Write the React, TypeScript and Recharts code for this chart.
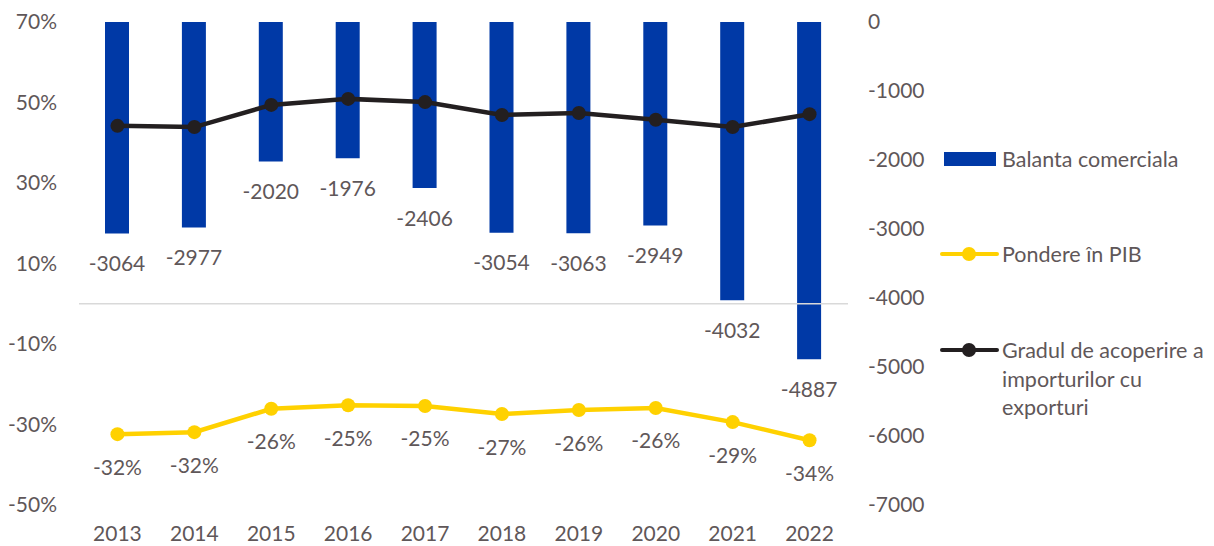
import {
  ComposedChart,
  Bar,
  Line,
  XAxis,
  YAxis,
  ReferenceLine,
  LabelList,
  Legend,
} from "recharts";

const years = ["2013", "2014", "2015", "2016", "2017", "2018", "2019", "2020", "2021", "2022"];
const balanta = [-3064, -2977, -2020, -1976, -2406, -3054, -3063, -2949, -4032, -4887];
const pondere = [-32.4, -31.9, -26.1, -25.2, -25.4, -27.4, -26.4, -25.9, -29.4, -33.9];
const gradul = [44.2, 43.9, 49.4, 50.9, 50.1, 46.9, 47.4, 45.7, 43.9, 47.1];

const leftTicks = [70, 50, 30, 10, -10, -30, -50];
const rightTicks = [0, -1000, -2000, -3000, -4000, -5000, -6000, -7000];

const BLUE = "#0039A6";
const YELLOW = "#FFD100";
const BLACK = "#231F20";
const TEXT = "#5f5759";
const FONT = "Lato, 'Open Sans', sans-serif";
const FS = 21;

const data = years.map((y, i) => ({
  year: y,
  balanta: balanta[i],
  pondere: pondere[i],
  gradul: gradul[i],
}));

const BarLabel = (props: any) => {
  const { x, y, width, height, value } = props;
  const bottom = Math.max(y, y + height);
  return (
    <text
      x={x + width / 2}
      y={bottom + 29}
      textAnchor="middle"
      dominantBaseline="central"
      fill={TEXT}
      fontSize={FS}
      fontFamily={FONT}
    >
      {value}
    </text>
  );
};

const PctLabel = (props: any) => {
  const { x, y, value } = props;
  return (
    <text
      x={x}
      y={y + 32}
      textAnchor="middle"
      dominantBaseline="central"
      fill={TEXT}
      fontSize={FS}
      fontFamily={FONT}
    >
      {Math.round(value)}%
    </text>
  );
};

const LegendBox = () => (
  <svg width={284} height={300} style={{ overflow: "visible" }}>
    <g fontFamily={FONT} fontSize={21.5} fill={TEXT}>
      <rect x={14} y={22} width={52} height={14} fill={BLUE} />
      <text x={72} y={29} dominantBaseline="central">Balanta comerciala</text>

      <line x1={12} x2={67} y1={124} y2={124} stroke={YELLOW} strokeWidth={4} strokeLinecap="round" />
      <circle cx={39} cy={124} r={7} fill={YELLOW} />
      <text x={72} y={124} dominantBaseline="central">Pondere în PIB</text>

      <line x1={12} x2={67} y1={220} y2={220} stroke={BLACK} strokeWidth={4} strokeLinecap="round" />
      <circle cx={39} cy={220} r={7} fill={BLACK} />
      <text x={72} y={220} dominantBaseline="central">Gradul de acoperire a</text>
      <text x={72} y={248.5} dominantBaseline="central">importurilor cu</text>
      <text x={72} y={277} dominantBaseline="central">exporturi</text>
    </g>
  </svg>
);

export default function App() {
  return (
    <div style={{ position: "absolute", left: 0, top: 0, background: "#fff" }}>
      <ComposedChart
        width={1214}
        height={546}
        data={data}
        margin={{ top: 22, right: 0, bottom: 0, left: 0 }}
        barCategoryGap={0}
      >
        <XAxis
          dataKey="year"
          axisLine={false}
          tickLine={false}
          tickSize={0}
          tickMargin={21}
          height={41}
          interval={0}
          tick={{ fill: TEXT, fontSize: FS, fontFamily: FONT }}
        />
        <YAxis
          yAxisId="left"
          orientation="left"
          width={79}
          domain={[-50, 70]}
          ticks={leftTicks}
          interval={0}
          axisLine={false}
          tickLine={false}
          tickSize={0}
          tickMargin={22}
          tickFormatter={(v: number) => `${v}%`}
          tick={{ fill: TEXT, fontSize: FS, fontFamily: FONT }}
        />
        <YAxis
          yAxisId="right"
          orientation="right"
          width={366}
          domain={[-7000, 0]}
          ticks={rightTicks}
          interval={0}
          axisLine={false}
          tickLine={false}
          tickSize={0}
          tickMargin={20}
          tick={{ fill: TEXT, fontSize: FS, fontFamily: FONT, textAnchor: "start" }}
        />
        <Bar
          yAxisId="right"
          dataKey="balanta"
          fill={BLUE}
          barSize={24}
          isAnimationActive={false}
        >
          <LabelList dataKey="balanta" content={BarLabel} />
        </Bar>
        <ReferenceLine yAxisId="left" y={0} stroke="#d9d9d9" strokeWidth={1.5} />
        <Line
          yAxisId="left"
          dataKey="pondere"
          stroke={YELLOW}
          strokeWidth={4.5}
          dot={{ r: 7, fill: YELLOW, stroke: YELLOW, strokeWidth: 0 }}
          isAnimationActive={false}
        >
          <LabelList dataKey="pondere" content={PctLabel} />
        </Line>
        <Line
          yAxisId="left"
          dataKey="gradul"
          stroke={BLACK}
          strokeWidth={4.5}
          dot={{ r: 7, fill: BLACK, stroke: BLACK, strokeWidth: 0 }}
          isAnimationActive={false}
        />
        <Legend
          layout="vertical"
          align="center"
          verticalAlign="middle"
          content={LegendBox}
          wrapperStyle={{ left: 930, top: 130, width: 284, height: 300 }}
        />
      </ComposedChart>
    </div>
  );
}
